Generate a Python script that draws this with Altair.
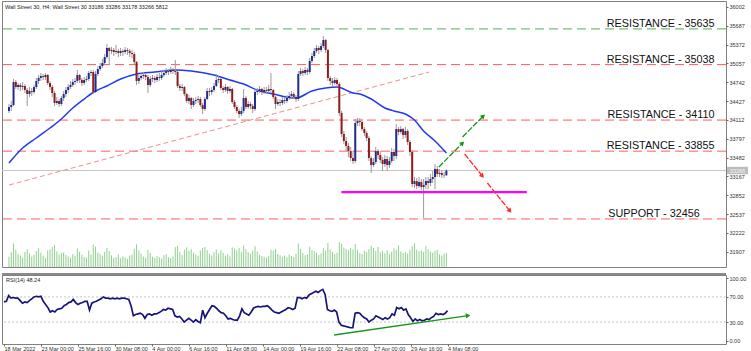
import json
import sys
import altair as alt
import pandas as pd

# ------------------------------------------------------------------ data
open_first = 34262
close = [
    34329, 34362, 34747, 34663, 34697, 34663, 34680, 34613, 34546, 34596,
    34580, 34663, 34764, 34814, 34847, 34830, 34864, 34730, 34663, 34563,
    34396, 34429, 34379, 34479, 34546, 34613, 34663, 34697, 34747, 34764,
    34864, 34780, 34730, 34780, 34797, 34897, 34914, 34580, 34881, 34964,
    35015, 35065, 35165, 35316, 35265, 35282, 35249, 35265, 35232, 35265,
    35249, 35282, 35265, 35232, 35215, 35081, 34764, 34814, 34847, 34864,
    34830, 34697, 34797, 34814, 34780, 34830, 34814, 34864, 34897, 34931,
    34914, 34948, 34931, 34914, 34680, 34647, 34663, 34546, 34429, 34479,
    34362, 34429, 34446, 34462, 34362, 34295, 34462, 34596, 34580, 34613,
    34680, 34780, 34797, 34647, 34613, 34663, 34596, 34630, 34412, 34329,
    34262, 34211, 34262, 34479, 34329, 34379, 34345, 34295, 34580, 34596,
    34630, 34580, 34613, 34596, 34630, 34613, 34496, 34379, 34412, 34396,
    34446, 34429, 34479, 34513, 34546, 34496, 34462, 34881, 34931, 34897,
    34948, 34914, 35098, 35182, 35265, 35316, 35282, 35349, 35450, 35282,
    34814, 34764, 34730, 34780, 34713, 34228, 33877, 33760, 33676, 33592,
    33475, 33425, 34061, 34094, 34078, 33960, 33894, 33810, 33475, 33358,
    33408, 33592, 33525, 33442, 33375, 33458, 33358, 33425, 33576, 33509,
    33960, 33910, 33960, 33860, 33927, 33743, 33576, 33040, 33090, 33007,
    33074, 32990, 33023, 33090, 33057, 33124, 33157, 33291, 33208, 33224,
    33191, 33186, 33266,
]
high = [
    34379, 34429, 34797, 34780, 34730, 34730, 34747, 34713, 34647, 34663,
    34647, 34697, 34814, 34864, 34897, 34881, 34897, 34881, 34764, 34697,
    34596, 34496, 34462, 34513, 34596, 34663, 34713, 34764, 34797, 34814,
    34948, 34881, 34814, 34830, 34847, 34931, 34948, 34948, 34931, 35015,
    35065, 35132, 35215, 35383, 35332, 35332, 35316, 35366, 35299, 35316,
    35299, 35332, 35316, 35299, 35282, 35249, 35098, 34864, 34897, 34914,
    34897, 34864, 34847, 34864, 34847, 34881, 34897, 34931, 34948, 34981,
    34964, 34998, 34981, 35115, 34931, 34713, 34713, 34680, 34563, 34529,
    34496, 34479, 34496, 34513, 34496, 34396, 34496, 34647, 34647, 34663,
    34730, 34881, 34847, 34814, 34680, 34713, 34680, 34680, 34647, 34446,
    34362, 34295, 34329, 34630, 34513, 34429, 34412, 34379, 34630, 34647,
    34680, 34647, 34663, 34663, 34697, 34897, 34630, 34513, 34462, 34462,
    34496, 34496, 34529, 34580, 34596, 34580, 34529, 34931, 34981, 34964,
    34998, 34981, 35148, 35232, 35316, 35366, 35349, 35399, 35516, 35466,
    35299, 34847, 34814, 34830, 34814, 34747, 34262, 33927, 33827, 33726,
    33659, 33592, 34128, 34145, 34145, 34128, 33994, 33927, 33843, 33509,
    33475, 33659, 33626, 33592, 33492, 33525, 33509, 33492, 33643, 33626,
    34044, 33994, 34011, 33977, 33994, 33960, 33776, 33609, 33157, 33141,
    33157, 33124, 33124, 33157, 33157, 33208, 33258, 33375, 33342, 33291,
    33275, 33241, 33286,
]
low = [
    34228, 34262, 34345, 34630, 34613, 34596, 34613, 34563, 34345, 34496,
    34513, 34546, 34630, 34713, 34764, 34780, 34780, 34697, 34613, 34496,
    34345, 34362, 34329, 34345, 34429, 34496, 34563, 34630, 34663, 34697,
    34730, 34730, 34680, 34697, 34747, 34764, 34847, 34546, 34563, 34847,
    34931, 34981, 35048, 35132, 35048, 35215, 35182, 35215, 35165, 35182,
    35182, 35215, 35199, 35165, 35148, 35048, 34697, 34713, 34780, 34797,
    34780, 34563, 34663, 34747, 34730, 34747, 34764, 34780, 34830, 34864,
    34864, 34881, 34881, 34864, 34647, 34596, 34596, 34513, 34396, 34379,
    34295, 34329, 34379, 34396, 34329, 34211, 34262, 34446, 34513, 34529,
    34580, 34663, 34730, 34613, 34563, 34580, 34546, 34563, 34379, 34295,
    34228, 34145, 34178, 34228, 34295, 34295, 34295, 34228, 34262, 34529,
    34563, 34529, 34546, 34546, 34563, 34563, 34462, 34295, 34345, 34345,
    34362, 34379, 34396, 34446, 34479, 34462, 34412, 34429, 34847, 34847,
    34864, 34864, 34881, 35065, 35148, 35232, 35215, 35249, 35316, 35232,
    34764, 34697, 34663, 34697, 34663, 34178, 33827, 33710, 33592, 33492,
    33425, 33375, 33392, 34011, 34011, 33927, 33843, 33760, 33425, 33224,
    33325, 33375, 33458, 33392, 33258, 33325, 33258, 33308, 33392, 33425,
    33458, 33860, 33877, 33793, 33810, 33693, 33509, 32990, 32973, 32957,
    32973, 32940, 32472, 32957, 32957, 33007, 33057, 32957, 33157, 33157,
    33141, 33141, 33178,
]
volume = [
    4200, 6100, 9800, 7200, 5400, 4800, 3900, 6200, 7400, 5600,
    4300, 5100, 6600, 7800, 5900, 4700, 3600, 6900, 7300, 8200,
    9100, 6400, 5200, 5800, 6100, 4900, 4400, 3800, 5300, 4600,
    7700, 6300, 5100, 4200, 3900, 6800, 5200, 9300, 8400, 6000,
    5400, 4700, 6300, 7900, 6600, 4800, 3700, 4100, 5200, 3600,
    4400, 3900, 3300, 4700, 5100, 7600, 9400, 6800, 5500, 4300,
    3900, 7100, 5800, 4200, 3800, 4600, 4000, 3500, 4900, 5300,
    4100, 3700, 4400, 8200, 8800, 6300, 4900, 7200, 8100, 6700,
    7400, 5900, 5200, 4600, 6800, 7900, 8300, 6900, 5400, 4800,
    6100, 7300, 5600, 7000, 5900, 4700, 5200, 4400, 8100, 7600,
    6900, 7800, 6200, 8900, 7300, 6100, 5500, 6700, 8600, 6400,
    5100, 4600, 4200, 3900, 4500, 7200, 6800, 7500, 5400, 4900,
    4300, 4700, 4000, 5200, 4600, 4100, 5500, 9700, 7400, 5800,
    4900, 5300, 8400, 7100, 6500, 5900, 5000, 5600, 7800, 6700,
    9900, 7300, 6200, 5400, 5900, 10200, 9600, 8100, 7400, 6900,
    7800, 7200, 9500, 7100, 5800, 5300, 6700, 6200, 7400, 8800,
    7900, 6600, 8300, 6100, 6800, 5700, 6900, 5400, 6300, 7700,
    7000, 8900, 6400, 5800, 6100, 5600, 7100, 8700, 9800, 7200,
    6500, 6900, 6200, 8600, 7300, 6400, 5900, 6700, 7100, 5200,
    4800, 5600, 5812,
]
rsi = [
    62, 63, 72, 68, 69, 68, 68, 64, 60, 62,
    61, 64, 67, 70, 71, 70, 71, 63, 58, 53,
    46, 48, 46, 50, 51, 52, 56, 58, 61, 62,
    66, 61, 58, 60, 61, 63, 63, 49, 60, 62,
    63, 65, 67, 70, 68, 68, 67, 68, 67, 68,
    67, 68, 68, 67, 66, 56, 40, 42, 43, 44,
    42, 36, 42, 43, 41, 43, 43, 45, 47, 50,
    49, 52, 51, 50, 40, 38, 39, 35, 30, 33,
    36, 33, 30, 34, 31, 29, 49, 37, 44, 50,
    56, 55, 52, 48, 45, 44, 40, 35, 36, 34,
    33, 33, 40, 51, 45, 43, 41, 46, 52, 54,
    55, 54, 55, 55, 56, 53, 49, 46, 45, 44,
    46, 48, 50, 53, 52, 50, 52, 69, 69, 67,
    69, 68, 73, 75, 77, 79, 77, 80, 82, 74,
    50, 48, 47, 49, 46, 30, 25, 24, 23, 22,
    21, 21, 44, 45, 44, 40, 37, 35, 30, 33,
    35, 40, 38, 36, 34, 37, 35, 37, 43, 41,
    53, 51, 53, 49, 51, 42, 37, 31, 35, 32,
    34, 32, 33, 35, 34, 37, 39, 44, 42, 43,
    42, 44, 48.24,
]
ma_bar = [0, 6, 12, 18, 23, 28, 33, 38, 43, 49, 56, 64, 73, 80, 90, 97, 103,
          110, 116, 126, 133, 139, 144, 151, 154, 159, 165, 169, 174, 178,
          182, 187, 192]
ma_value = [33392, 33643, 33810, 33977, 34128, 34312, 34462, 34596, 34680,
            34797, 34881, 34914, 34948, 34931, 34864, 34780, 34713, 34596,
            34546, 34479, 34596, 34647, 34663, 34563, 34546, 34462, 34312,
            34262, 34211, 34111, 33927, 33760, 33560]

tick_bars = [0, 16, 32, 48, 64, 80, 96, 112, 128, 144, 160, 176, 192]
tick_labels = ["18 Mar 2022", "23 Mar 00:00", "25 Mar 16:00", "30 Mar 08:00",
               "4 Apr 00:00", "6 Apr 16:00", "11 Apr 08:00", "14 Apr 00:00",
               "19 Apr 16:00", "22 Apr 08:00", "27 Apr 00:00", "29 Apr 16:00",
               "4 May 08:00"]
price_ticks = [36002, 35687, 35372, 35057, 34742, 34427, 34112, 33797, 33482,
               33167, 32852, 32537, 32222, 31907]
rsi_ticks = [0, 30, 70, 100]
rsi_levels = [30, 70]

level_price = [35635, 35038, 34110, 33590, 32456]
level_text = ["RESISTANCE - 35635", "RESISTANCE - 35038", "RESISTANCE - 34110",
              "RESISTANCE - 33855", "SUPPORT - 32456"]
level_kind = ["green", "red", "red", "red", "red"]
label_end_bar = [309.7, 309.7, 309.7, 309.7, 303.2]

last_price = 33266
header = "Wall Street 30, H4:  Wall Street 30  33186 33286 33178 33266  5812"
rsi_title = "RSI(14) 48.24"

trend_bar = [0.0, 184.4]
trend_price = [33023, 34914]
zone_bar = [145.9, 227.3]
zone_price = 32905
up_arrows = [(188.7, 33325, 199.1, 33726), (199.1, 33827, 208.2, 34178)]
down_arrows = [(200.0, 33542, 207.8, 33174), (210.0, 33057, 219.9, 32589)]
rsi_arrow = (142.9, 9.5, 200.9, 40.2)

# ------------------------------------------------------------------ style
FONT = "Liberation Sans"
BULL = "#232b8c"
BEAR = "#8e1c1c"
WICK = "#9a9a9a"
KIND_COLOR = {"green": "#4fb04f", "red": "#ff5a5a"}

n = min(len(close), len(high), len(low), len(volume), len(rsi))
if len({len(close), len(high), len(low), len(volume), len(rsi)}) != 1:
    print("length mismatch", len(close), len(high), len(low), len(volume), len(rsi), file=sys.stderr)

opens = [open_first] + close[:-1]
rows = []
for i in range(n):
    o, c = opens[i], close[i]
    rows.append({
        "i": i, "o": o, "c": c,
        "h": max(high[i], o, c), "l": min(low[i], o, c),
        "v": volume[i], "rsi": rsi[i],
        "col": BULL if c >= o else BEAR,
    })
df = pd.DataFrame(rows)

xscale = alt.Scale(domain=[-0.87, 312.55], nice=False, zero=False)
pscale = alt.Scale(domain=[31652, 36102], nice=False, zero=False)
rscale = alt.Scale(domain=[-4.8, 104.8], nice=False, zero=False)

price_axis = alt.Axis(orient="right", values=price_ticks, title=None, grid=False,
                      domain=False, tickSize=2, tickColor="#666", labelFontSize=5.5,
                      labelColor="#333", labelPadding=1, labelFont=FONT, format="d")
rsi_axis = alt.Axis(orient="right", values=rsi_ticks, title=None, grid=False,
                    domain=False, tickSize=2, tickColor="#666", labelFontSize=5.5,
                    labelColor="#333", labelPadding=1, labelFont=FONT, format=".2f")
label_expr = json.dumps(tick_labels) + "[round(datum.value/16)]"
time_axis = alt.Axis(values=tick_bars, labelExpr=label_expr, title=None, grid=False,
                     domain=False, tickSize=2, tickColor="#666", labelFontSize=5.5,
                     labelColor="#333", labelAlign="left", labelPadding=0,
                     labelFont=FONT)


def PX(f):
    return alt.X(f, type="quantitative", scale=xscale, axis=None)


def PY(f):
    return alt.Y(f, type="quantitative", scale=pscale, axis=price_axis)


def RX(f):
    return alt.X(f, type="quantitative", scale=xscale, axis=time_axis)


def RY(f):
    return alt.Y(f, type="quantitative", scale=rscale, axis=rsi_axis)


base = alt.Chart(df)

# ----- price panel
lv = pd.DataFrame({"p": level_price, "t": level_text,
                   "col": [KIND_COLOR[k] for k in level_kind], "lx": label_end_bar})
levels = alt.Chart(lv).mark_rule(strokeDash=[9, 5], strokeWidth=1).encode(
    y=PY("p"), color=alt.Color("col:N", scale=None))
level_labels = alt.Chart(lv).mark_text(align="right", baseline="alphabetic", dy=-2,
                                       fontSize=10.8, font=FONT, color="#111").encode(
    x=PX("lx"), y=PY("p"), text="t")

cur = pd.DataFrame({"p": [last_price], "hi": [last_price + 62], "lo": [last_price - 62],
                    "t": [str(last_price)]})
cur_line = alt.Chart(cur).mark_rule(color="#c9c9c9", strokeWidth=1).encode(y=PY("p"))
cur_box = alt.Chart(cur).mark_rect(color="#bdbdbd").encode(
    x=alt.value(725), x2=alt.value(746), y=PY("hi"), y2="lo")
cur_txt = alt.Chart(cur).mark_text(fontSize=5.5, font=FONT, color="#f4f4f4").encode(
    x=alt.value(735.5), y=PY("p"), text="t")

tr = pd.DataFrame({"x": [trend_bar[0]], "x2": [trend_bar[1]],
                   "y": [trend_price[0]], "y2": [trend_price[1]]})
trend = alt.Chart(tr).mark_rule(color="#e79090", strokeDash=[5, 3], strokeWidth=1).encode(
    x=PX("x"), x2="x2", y=PY("y"), y2="y2")

ma_df = pd.DataFrame({"i": ma_bar, "m": ma_value})
ma = alt.Chart(ma_df).mark_line(color="#1f3af5", strokeWidth=1.5, interpolate="monotone").encode(
    x=PX("i"), y=PY("m"))

wicks = base.mark_rule(color=WICK, strokeWidth=1).encode(x=PX("i"), y=PY("l"), y2="h")
bodies = base.mark_bar(size=2).encode(x=PX("i"), y=PY("o"), y2="c",
                                       color=alt.Color("col:N", scale=None))

zone = alt.Chart(pd.DataFrame({"x": [zone_bar[0]], "x2": [zone_bar[1]], "y": [zone_price]})
                 ).mark_rule(color="#ff00ff", strokeWidth=2.2).encode(x=PX("x"), x2="x2", y=PY("y"))


def arrows(segs, color, ang):
    d = pd.DataFrame([{"x": a, "y": b, "x2": c, "y2": e, "ang": ang} for a, b, c, e in segs])
    shaft = alt.Chart(d).mark_rule(color=color, strokeWidth=1.3, strokeDash=[6, 1.5]).encode(
        x=PX("x"), x2="x2", y=PY("y"), y2="y2")
    head = alt.Chart(d).mark_point(shape="triangle-up", filled=True, size=28, color=color,
                                   opacity=1).encode(
        x=PX("x2"), y=PY("y2"), angle=alt.Angle("ang:Q", scale=None))
    return shaft + head


up = arrows(up_arrows, "#1a941a", 45)
down = arrows(down_arrows, "#ff2a2a", 141)

hdr = alt.Chart(pd.DataFrame({"t": [header]})).mark_text(
    align="left", baseline="middle", fontSize=5.5, font=FONT, color="#222").encode(
    x=alt.value(3), y=alt.value(6), text="t")

vol = base.mark_rule(color="#8fd18f", strokeWidth=1).encode(
    x=PX("i"), y=alt.Y("v:Q", scale=alt.Scale(domain=[0, 110000], nice=False), axis=None),
    y2=alt.datum(0))

price_layers = alt.layer(cur_line, levels, trend, ma, wicks, bodies, zone, up, down,
                         level_labels, cur_box, cur_txt, hdr)
price = alt.layer(vol, price_layers).resolve_scale(y="independent").properties(
    width=724, height=266)

# ----- RSI panel
rl = pd.DataFrame({"r": rsi_levels})
rsi_lv = alt.Chart(rl).mark_rule(color="#c4c4c4", strokeDash=[2, 2], strokeWidth=1).encode(
    y=RY("r"))
rsi_line = base.mark_line(color="#16167a", strokeWidth=1.7).encode(x=RX("i"), y=RY("rsi"))
ra = pd.DataFrame({"x": [rsi_arrow[0]], "y": [rsi_arrow[1]], "x2": [rsi_arrow[2]],
                   "y2": [rsi_arrow[3]], "ang": [82]})
rsi_shaft = alt.Chart(ra).mark_rule(color="#1a941a", strokeWidth=1.4).encode(
    x=RX("x"), x2="x2", y=RY("y"), y2="y2")
rsi_head = alt.Chart(ra).mark_point(shape="triangle-up", filled=True, size=28,
                                    color="#1a941a", opacity=1).encode(
    x=RX("x2"), y=RY("y2"), angle=alt.Angle("ang:Q", scale=None))
rsi_hdr = alt.Chart(pd.DataFrame({"t": [rsi_title]})).mark_text(
    align="left", baseline="middle", fontSize=5.5, font=FONT, color="#222").encode(
    x=alt.value(4), y=alt.value(5), text="t")
separator = alt.Chart(pd.DataFrame({"k": [0]})).mark_rule(
    color="#8a8a8a", strokeWidth=2).encode(y=alt.value(-1))
rsi_chart = alt.layer(rsi_lv, rsi_line, rsi_shaft, rsi_head, rsi_hdr, separator).properties(
    width=724, height=69)

chart = alt.vconcat(price, rsi_chart, spacing=4).properties(
    padding={"left": 0, "top": 0, "right": 0, "bottom": 0}, background="white"
).configure_view(stroke="#808080", strokeWidth=1)

chart.save("out.html", embed_options={"renderer": "svg", "actions": False})
